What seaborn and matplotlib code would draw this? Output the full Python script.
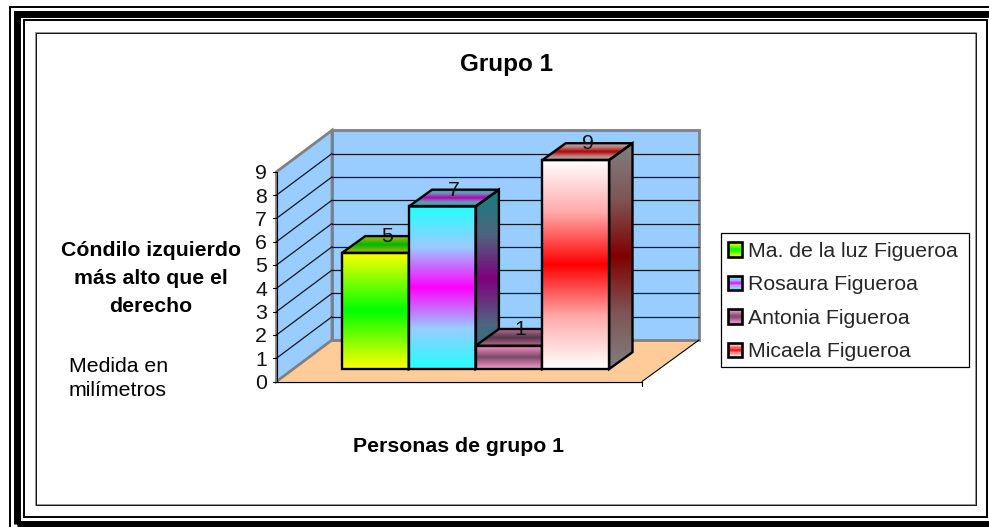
import numpy as np
import pandas as pd
import matplotlib
matplotlib.use('Agg')
import matplotlib.pyplot as plt
import seaborn as sns
from matplotlib.colors import LinearSegmentedColormap
from matplotlib.legend_handler import HandlerBase
from matplotlib.patches import Polygon, Rectangle

personas = ['Ma. de la luz Figueroa', 'Rosaura Figueroa', 'Antonia Figueroa', 'Micaela Figueroa']
medidas = [5, 7, 1, 9]
ticks_y = [0, 1, 2, 3, 4, 5, 6, 7, 8, 9]
degradados = [
    ['#ffff00', '#00ff00', '#ffff00'],
    ['#22ffff', '#99ccff', '#ff00ff', '#99ccff', '#22ffff'],
    ['#ff99cc', '#7a4a68', '#ff99cc'],
    ['#ffffff', '#ffaaaa', '#ff0000', '#ffaaaa', '#ffffff'],
]

W, H = 989, 527
PX_CAT = 66.8   # pixeles por categoria
PX_VAL = 23.22  # pixeles por milimetro
X0, Y0 = 342, 369  # esquina frontal de la primera barra
FS = 15.3


def dx(px):
    return -0.5 + (px - X0) / PX_CAT


def dy(py):
    return (Y0 - py) / PX_VAL


sns.set_theme(style='white')
plt.rcParams['font.family'] = ['Liberation Sans', 'DejaVu Sans']

fig = plt.figure(figsize=(W / 100, H / 100), dpi=100, facecolor='white')
ax = fig.add_axes([0, 0, 1, 1])


# === Marco de la pagina ===
def marco(x0, y0, x1, y1, lw, color='black'):
    fig.add_artist(Rectangle((x0 / W, 1 - y1 / H), (x1 - x0) / W, (y1 - y0) / H,
                             transform=fig.transFigure, fill=False, ec=color, lw=lw))


marco(10, 7, 1000, 1000, 1.4)
marco(16.5, 13.5, 1000, 523.5, 5)
marco(24, 20, 987, 517, 1.4)
marco(36, 33, 976, 505, 1.2, '#808080')
marco(35.5, 32.5, 975.5, 504.5, 0.6)

# === Barras frontales ===
df = pd.DataFrame({'persona': personas, 'medida': medidas})
sns.barplot(data=df, x='persona', y='medida', hue='persona', width=1, dodge=False,
            legend=False, ax=ax, palette=['none'] * 4, zorder=5)


def rellenar(verts, colores, brillo, z):
    cmap = LinearSegmentedColormap.from_list('g', colores)
    rgb = cmap(np.linspace(0, 1, 256)[:, None])[:, :, :3] * brillo
    verts = np.array(verts)
    extent = [verts[:, 0].min(), verts[:, 0].max(), verts[:, 1].min(), verts[:, 1].max()]
    im = ax.imshow(rgb, extent=extent, aspect='auto', origin='upper',
                   interpolation='bilinear', zorder=z)
    borde = Polygon(verts, closed=True, fc='none', ec='black', lw=1.7, zorder=z + 0.1,
                    joinstyle='miter')
    ax.add_patch(borde)
    im.set_clip_path(borde)


prof_x = 23.3 / PX_CAT
prof_y = 16.8 / PX_VAL
for i, barra in enumerate(ax.patches[:len(medidas)]):
    x0, x1 = barra.get_x(), barra.get_x() + barra.get_width()
    alto = barra.get_height()
    z = 5 + i
    rellenar([(x0, 0), (x1, 0), (x1, alto), (x0, alto)], degradados[i], 1.0, z)
    rellenar([(x1, 0), (x1 + prof_x, prof_y), (x1 + prof_x, alto + prof_y), (x1, alto)],
             degradados[i], 0.5, z)
    rellenar([(x0, alto), (x1, alto), (x1 + prof_x, alto + prof_y), (x0 + prof_x, alto + prof_y)],
             degradados[i], 0.72, z)
    ax.text(x0 + (x1 - x0) / 2 + prof_x / 2, alto + prof_y / 2 + 0.33, str(medidas[i]),
            ha='center', va='center', fontsize=FS, color='#111111', zorder=20)

# === Paredes y piso ===
izq_f, izq_a, der_a, der_f = dx(276.5), dx(332), dx(699), dx(642)
base_f, base_a = dy(381.5), dy(340)
uy = 23.3 / PX_VAL

ax.add_patch(Polygon([(izq_a, base_a), (der_a, base_a), (der_f, base_f), (izq_f, base_f)],
                     fc='#ffcc99', ec='none', zorder=1))
ax.add_patch(Polygon([(izq_a, base_a), (der_a, base_a), (der_a, base_a + 9 * uy), (izq_a, base_a + 9 * uy)],
                     fc='#99ccff', ec='#808080', lw=2, zorder=2))
ax.add_patch(Polygon([(izq_f, base_f), (izq_a, base_a), (izq_a, base_a + 9 * uy), (izq_f, base_f + 9 * uy)],
                     fc='#99ccff', ec='#808080', lw=2, zorder=2))

for t in ticks_y:
    if 0 < t < 9:
        ax.plot([izq_a, der_a], [base_a + t * uy] * 2, color='#101820', lw=0.9, zorder=3)
        ax.plot([izq_f, izq_a], [base_f + t * uy, base_a + t * uy], color='#101820', lw=0.9, zorder=3)
    ax.plot([dx(272.5), izq_f], [base_f + t * uy] * 2, color='black', lw=0.8, zorder=3)
    ax.text(dx(267), base_f + t * uy - 2 / PX_VAL, str(t), ha='right', va='center', fontsize=FS,
            color='#111111', zorder=3)

ax.plot([izq_f, izq_f], [base_f, base_f + 9 * uy], color='black', lw=0.8, zorder=3)
ax.plot([izq_f, der_f], [base_f, base_f], color='black', lw=0.9, zorder=3)
ax.plot([der_f, der_a], [base_f, base_a], color='black', lw=0.8, zorder=3)
ax.plot([der_f, der_f], [base_f, dy(386)], color='black', lw=0.8, zorder=3)


# === Textos ===
def texto(x, y, s, **kw):
    ax.text(dx(x), dy(y), s, va='center', color='black', zorder=20, **kw)


texto(506, 65, 'Grupo 1', ha='center', fontsize=17.5, fontweight='bold')
texto(151, 251, 'Cóndilo izquierdo', ha='center', fontsize=FS, fontweight='bold')
texto(151, 279, 'más alto que el', ha='center', fontsize=FS, fontweight='bold')
texto(151, 307, 'derecho', ha='center', fontsize=FS, fontweight='bold')
texto(69, 367, 'Medida en', ha='left', fontsize=FS)
texto(69, 391, 'milímetros', ha='left', fontsize=FS)
texto(458, 447, 'Personas de grupo 1', ha='center', fontsize=FS, fontweight='bold')


# === Leyenda con degradado ===
class Muestra(HandlerBase):
    def __init__(self, colores):
        super().__init__()
        self.colores = colores

    def create_artists(self, legend, orig, xd, yd, w, h, fs, trans):
        cmap = LinearSegmentedColormap.from_list('g', self.colores)
        lado = 10.5
        y0 = -yd + (h - lado) / 2
        n = 12
        tiras = []
        for k in range(n):
            tiras.append(Rectangle((-xd + 0.5, y0 + lado * k / n), lado, lado / n + 0.1,
                                   fc=cmap((k + 0.5) / n), ec='none', transform=trans))
        tiras.append(Rectangle((-xd + 0.5, y0), lado, lado, fc='none', ec='black', lw=1.9, transform=trans))
        return tiras


ax.add_patch(Rectangle((dx(721), dy(367)), dx(968.5) - dx(721), dy(233) - dy(367),
                       fc='white', ec='black', lw=0.9, zorder=29))
handles = [Rectangle((0, 0), 1, 1) for _ in personas]
leg = ax.legend(handles, personas, loc='upper left', bbox_to_anchor=(727 / W, 1 - 242 / H),
                bbox_transform=fig.transFigure, borderaxespad=0, borderpad=0, fontsize=FS,
                frameon=False, handlelength=0.75, handletextpad=0.24, labelspacing=0.68,
                handler_map={h: Muestra(c) for h, c in zip(handles, degradados)})
leg.set_zorder(30)

ax.set_xlim(dx(0), dx(W))
ax.set_ylim(dy(H), dy(0))
ax.axis('off')

fig.savefig('out.png', dpi=100, facecolor='white')
